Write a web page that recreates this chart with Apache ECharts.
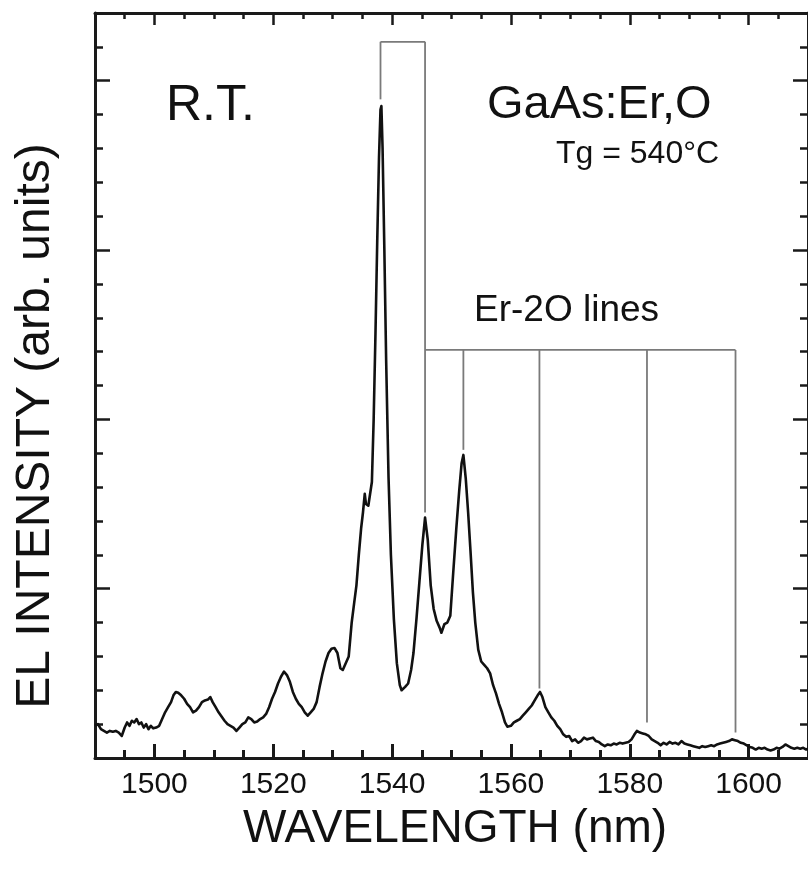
<!DOCTYPE html>
<html>
<head>
<meta charset="utf-8">
<script src="https://cdn.jsdelivr.net/npm/echarts@6/dist/echarts.min.js"></script>
<style>html,body{margin:0;padding:0;background:#fff}#c{width:808px;height:874px}</style>
</head>
<body>
<div id="c"></div>
<script>
// ---- data ----
const wavelength = [
1490.0,1490.5,1491.0,1491.5,1492.0,1492.5,1493.0,1493.5,1494.0,1494.5,1495.0,1495.4,1495.8,1496.2,1496.6,1497.0,1497.4,1497.8,1498.2,1498.6,1499.0,1499.4,1499.8,1500.3,1500.8,1501.3,1501.8,1502.3,1502.8,1503.2,1503.6,1504.0,1504.5,1505.0,1505.5,1506.0,1506.5,1507.0,1507.5,1508.0,1508.5,1509.0,1509.4,1509.8,1510.3,1510.8,1511.3,1511.8,1512.3,1512.8,1513.3,1513.8,1514.3,1514.8,1515.3,1515.8,1516.3,1516.8,1517.3,1517.8,1518.3,1518.8,1519.3,1519.8,1520.3,1520.8,1521.3,1521.8,1522.3,1522.8,1523.3,1523.8,1524.3,1524.8,1525.3,1525.8,1526.3,1526.8,1527.3,1527.8,1528.3,1528.8,1529.3,1529.8,1530.3,1530.8,1531.3,1531.7,1532.2,1532.7,1533.2,1533.6,1534.0,1534.4,1534.8,1535.1,1535.4,1535.6,1536.0,1536.3,1536.6,1536.9,1537.2,1537.5,1537.8,1538.05,1538.2,1538.4,1538.7,1539.0,1539.4,1539.8,1540.3,1540.8,1541.3,1541.6,1542.2,1542.7,1543.2,1543.6,1544.1,1544.6,1545.1,1545.55,1546.0,1546.5,1547.0,1547.5,1548.0,1548.3,1548.8,1549.3,1549.8,1550.3,1550.8,1551.3,1551.7,1552.0,1552.4,1552.8,1553.2,1553.6,1554.0,1554.5,1555.0,1555.5,1556.0,1556.5,1557.0,1557.5,1558.0,1558.5,1559.0,1559.4,1560.0,1560.5,1561.0,1561.5,1562.0,1562.5,1563.0,1563.5,1564.0,1564.5,1564.9,1565.3,1565.8,1566.3,1566.8,1567.3,1567.8,1568.3,1568.8,1569.3,1569.8,1570.3,1570.8,1571.3,1571.8,1572.3,1572.8,1573.3,1573.8,1574.3,1574.8,1575.3,1575.8,1576.3,1576.8,1577.3,1577.8,1578.3,1578.8,1579.3,1579.8,1580.3,1580.8,1581.2,1581.7,1582.2,1582.7,1583.2,1583.7,1584.2,1584.7,1585.2,1585.7,1586.2,1586.7,1587.2,1587.7,1588.2,1588.7,1589.2,1589.7,1590.2,1590.7,1591.2,1591.7,1592.2,1592.7,1593.2,1593.7,1594.2,1594.7,1595.2,1595.7,1596.2,1596.7,1597.2,1597.7,1598.2,1598.7,1599.2,1599.7,1600.2,1600.7,1601.2,1601.7,1602.2,1602.7,1603.2,1603.7,1604.2,1604.7,1605.2,1605.7,1606.2,1606.7,1607.2,1607.7,1608.2,1608.7,1609.2,1609.7,1610.0
];
const intensity = [
0.19,0.20,0.17,0.16,0.15,0.16,0.155,0.16,0.15,0.13,0.18,0.21,0.19,0.22,0.21,0.23,0.20,0.21,0.18,0.20,0.17,0.19,0.175,0.18,0.19,0.23,0.27,0.30,0.33,0.37,0.39,0.385,0.37,0.35,0.32,0.30,0.27,0.28,0.30,0.33,0.34,0.345,0.36,0.33,0.30,0.27,0.245,0.22,0.20,0.19,0.18,0.16,0.18,0.20,0.21,0.24,0.23,0.21,0.215,0.23,0.24,0.26,0.30,0.35,0.39,0.44,0.48,0.51,0.49,0.45,0.39,0.35,0.32,0.30,0.27,0.25,0.27,0.29,0.33,0.42,0.50,0.57,0.62,0.645,0.65,0.62,0.53,0.52,0.56,0.60,0.80,0.91,1.02,1.20,1.36,1.45,1.56,1.50,1.49,1.50,1.63,2.00,2.50,3.05,3.55,3.83,3.85,3.60,3.00,2.35,1.66,1.20,0.82,0.56,0.43,0.40,0.42,0.44,0.52,0.62,0.82,1.04,1.26,1.42,1.29,1.02,0.88,0.81,0.77,0.74,0.79,0.80,0.84,1.10,1.35,1.58,1.74,1.79,1.65,1.45,1.22,0.98,0.80,0.64,0.57,0.55,0.53,0.50,0.43,0.38,0.32,0.27,0.21,0.185,0.19,0.21,0.22,0.23,0.25,0.27,0.29,0.31,0.34,0.37,0.39,0.36,0.30,0.27,0.24,0.22,0.19,0.17,0.14,0.125,0.13,0.10,0.11,0.09,0.10,0.12,0.11,0.115,0.12,0.10,0.095,0.08,0.07,0.08,0.075,0.085,0.08,0.09,0.085,0.09,0.095,0.11,0.14,0.16,0.15,0.145,0.14,0.13,0.11,0.10,0.09,0.075,0.09,0.08,0.095,0.085,0.09,0.08,0.10,0.085,0.08,0.075,0.07,0.065,0.06,0.07,0.065,0.07,0.075,0.07,0.08,0.085,0.09,0.095,0.10,0.11,0.105,0.10,0.09,0.085,0.075,0.065,0.06,0.05,0.06,0.055,0.06,0.05,0.045,0.05,0.06,0.055,0.065,0.08,0.07,0.06,0.055,0.06,0.055,0.06,0.05,0.055
];
const xMajorTicks = [1500, 1520, 1540, 1560, 1580, 1600];
const yMajorTicks = [0, 1, 2, 3, 4];
// annotation line segments [x1, y1, x2, y2] in data units
const peakBox = [
  [1538.05, 3.89, 1538.05, 4.23],
  [1538.05, 4.23, 1545.55, 4.23],
  [1545.55, 4.23, 1545.55, 1.45]
];
const er2oLines = [
  [1545.55, 2.41, 1597.8, 2.41],
  [1552.0, 2.41, 1552.0, 1.82],
  [1564.8, 2.41, 1564.8, 0.41],
  [1582.9, 2.41, 1582.9, 0.21],
  [1597.8, 2.41, 1597.8, 0.15]
];

const FONT = '"Liberation Sans", Arial, Helvetica, sans-serif';
const AX = '#1a1a1a';
const xMin = 1490, xMax = 1610, yMin = 0, yMax = 4.4;

const spectrum = wavelength.map((w, i) => [w, intensity[i]]);
const segments = peakBox.concat(er2oLines);

function xAx(pos, major) {
  const bottom = pos === 'bottom';
  const a = {
    type: 'value', position: pos, min: xMin, max: xMax,
    axisLine: { show: !major, onZero: false, lineStyle: { color: AX, width: 3 } },
    axisTick: { show: true, inside: true,
                length: major ? (bottom ? 14 : 12) : (bottom ? 8 : 6),
                lineStyle: { color: AX, width: bottom ? 3 : 2.5 } },
    axisLabel: { show: false },
    splitLine: { show: false }
  };
  if (major) {
    a.axisTick.customValues = xMajorTicks;
    if (bottom) {
      a.axisLabel = { show: true, customValues: xMajorTicks, fontSize: 30, color: '#111', fontFamily: FONT, margin: 12,
                      formatter: function (v) { return String(v); } };
    }
  } else {
    a.interval = 5;
  }
  return a;
}
function yAx(pos, major) {
  const a = {
    type: 'value', position: pos, min: yMin, max: yMax,
    axisLine: { show: !major, onZero: false, lineStyle: { color: AX, width: 3 } },
    axisTick: { show: true, inside: true, length: major ? 15 : 8, lineStyle: { color: AX, width: 2.5 } },
    axisLabel: { show: false },
    splitLine: { show: false }
  };
  if (major) a.axisTick.customValues = yMajorTicks; else a.interval = 0.2;
  return a;
}

const chart = echarts.init(document.getElementById('c'), null, { renderer: 'canvas' });
chart.setOption({
  backgroundColor: '#ffffff',
  animation: false,
  grid: { left: 95, right: -8, top: 13, bottom: 116, containLabel: false },
  xAxis: [xAx('bottom', false), xAx('bottom', true), xAx('top', false), xAx('top', true)],
  yAxis: [yAx('left', false), yAx('left', true), yAx('right', false), yAx('right', true)],
  series: [
    {
      type: 'custom', xAxisIndex: 0, yAxisIndex: 0,
      data: segments,
      encode: { x: [0, 2], y: [1, 3] },
      renderItem: function (params, api) {
        const p1 = api.coord([api.value(0), api.value(1)]);
        const p2 = api.coord([api.value(2), api.value(3)]);
        return { type: 'line', shape: { x1: p1[0], y1: p1[1], x2: p2[0], y2: p2[1] },
                 style: { stroke: '#7a7a7a', lineWidth: 1.8 } };
      },
      silent: true, z: 1
    },
    {
      type: 'line', xAxisIndex: 0, yAxisIndex: 0,
      data: spectrum, showSymbol: false, symbol: 'none',
      lineStyle: { color: '#111', width: 2.6, join: 'round' },
      z: 2
    }
  ],
  graphic: [
    { type: 'text', left: 166, top: 81, style: { text: 'R.T.', fontSize: 50, fontFamily: FONT, fill: '#111' } },
    { type: 'text', left: 487, top: 82, style: { text: 'GaAs:Er,O', fontSize: 47, fontFamily: FONT, fill: '#111' } },
    { type: 'text', left: 556, top: 138, style: { text: 'Tg = 540°C', fontSize: 32, fontFamily: FONT, fill: '#111' } },
    { type: 'text', left: 474, top: 292, style: { text: 'Er-2O lines', fontSize: 37, fontFamily: FONT, fill: '#111' } },
    { type: 'text', x: 36, y: 426, rotation: Math.PI / 2,
      style: { text: 'EL INTENSITY (arb. units)', fontSize: 48, fontFamily: FONT, fill: '#111', align: 'center', verticalAlign: 'middle' } },
    { type: 'text', x: 455, y: 829,
      style: { text: 'WAVELENGTH (nm)', fontSize: 46, fontFamily: FONT, fill: '#111', align: 'center', verticalAlign: 'middle' } }
  ]
});
</script>
</body>
</html>
